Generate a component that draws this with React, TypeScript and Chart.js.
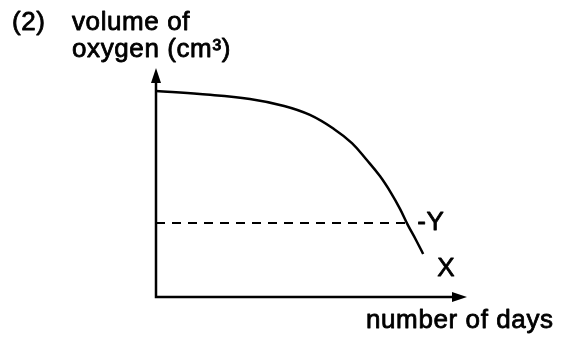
import React, { useEffect, useRef } from "react";
import { Chart, registerables } from "chart.js";

Chart.register(...registerables);

// ---- data ----
const curveDays = [0, 1.41, 3.02, 4.12, 4.95, 5.72, 6.3, 6.78, 7.2, 7.56, 7.85, 8.1, 8.36, 8.59];
const curveOxygen = [9.0, 8.86, 8.65, 8.34, 7.95, 7.34, 6.72, 5.98, 5.28, 4.54, 3.84, 3.14, 2.49, 1.88];
const levelOxygen = 3.23;
const dashedDays = [0, 8.02];
const questionLabel = "(2)";
const headingLines = ["volume of", "oxygen (cm³)"];
const xAxisTitle = "number of days";
const pointLabels = ["-Y", "X"];
const pointLabelDays = [8.4, 9.04];
const pointLabelOxygen = [3.23, 1.22];
const xMax = 10;
const yMax = 10;

const FONT = "26px 'Liberation Sans', Arial, sans-serif";

function drawText(ctx: any, s: string, x: number, y: number) {
  ctx.fillText(s, x, y);
  ctx.strokeText(s, x, y);
}

const sketchPlugin = {
  id: "sketch",
  beforeDraw(chart: any) {
    const ctx = chart.ctx;
    ctx.save();
    ctx.fillStyle = "#ffffff";
    ctx.fillRect(0, 0, chart.width, chart.height);
    ctx.restore();
  },
  afterDraw(chart: any) {
    const ctx = chart.ctx;
    const { left, right, top, bottom } = chart.chartArea;
    ctx.save();
    ctx.strokeStyle = "#000";
    ctx.fillStyle = "#000";
    ctx.lineWidth = 2.5;
    // axes
    ctx.beginPath();
    ctx.moveTo(left, top + 10);
    ctx.lineTo(left, bottom);
    ctx.lineTo(right - 10, bottom);
    ctx.stroke();
    // arrow heads
    ctx.beginPath();
    ctx.moveTo(left, top);
    ctx.lineTo(left - 5, top + 15);
    ctx.lineTo(left + 5, top + 15);
    ctx.closePath();
    ctx.fill();
    ctx.beginPath();
    ctx.moveTo(right, bottom);
    ctx.lineTo(right - 15, bottom - 5);
    ctx.lineTo(right - 15, bottom + 5);
    ctx.closePath();
    ctx.fill();

    // texts
    ctx.font = FONT;
    ctx.lineWidth = 0.8;
    ctx.lineJoin = "round";
    try { ctx.letterSpacing = "0.6px"; } catch (e) {}
    ctx.textBaseline = "alphabetic";
    ctx.textAlign = "left";
    drawText(ctx, questionLabel, 12, 30);
    drawText(ctx, headingLines[0], 72, 30);
    drawText(ctx, headingLines[1], 72, 57);
    drawText(ctx, xAxisTitle, 366, 328);

    const xs = chart.scales.x;
    const ys = chart.scales.y;
    ctx.textBaseline = "middle";
    for (let i = 0; i < pointLabels.length; i++) {
      drawText(ctx, pointLabels[i], xs.getPixelForValue(pointLabelDays[i]), ys.getPixelForValue(pointLabelOxygen[i]));
    }
    ctx.restore();
  },
};

export default function App() {
  const ref = useRef<HTMLCanvasElement | null>(null);
  useEffect(() => {
    if (!ref.current) return;
    const chart = new Chart(ref.current, {
      type: "line",
      data: {
        datasets: [
          {
            data: curveDays.map((d, i) => ({ x: d, y: curveOxygen[i] })),
            borderColor: "#000",
            borderWidth: 2.5,
            pointRadius: 0,
            tension: 0.4,
            fill: false,
          },
          {
            data: dashedDays.map((d) => ({ x: d, y: levelOxygen })),
            borderColor: "#000",
            borderWidth: 2,
            borderDash: [9, 7],
            pointRadius: 0,
            fill: false,
          },
        ],
      },
      options: {
        responsive: false,
        animation: false,
        events: [],
        layout: { padding: { left: 156, right: 568 - 467, top: 68, bottom: 341 - 297 } },
        plugins: { legend: { display: false }, tooltip: { enabled: false }, title: { display: false } },
        scales: {
          x: { type: "linear", min: 0, max: xMax, display: false },
          y: { type: "linear", min: 0, max: yMax, display: false },
        },
      },
      plugins: [sketchPlugin],
    } as any);
    return () => chart.destroy();
  }, []);
  return (
    <div style={{ position: "fixed", left: 0, top: 0, width: 568, height: 341, background: "#fff" }}>
      <canvas ref={ref} width={568} height={341} style={{ width: 568, height: 341, display: "block" }} />
    </div>
  );
}
